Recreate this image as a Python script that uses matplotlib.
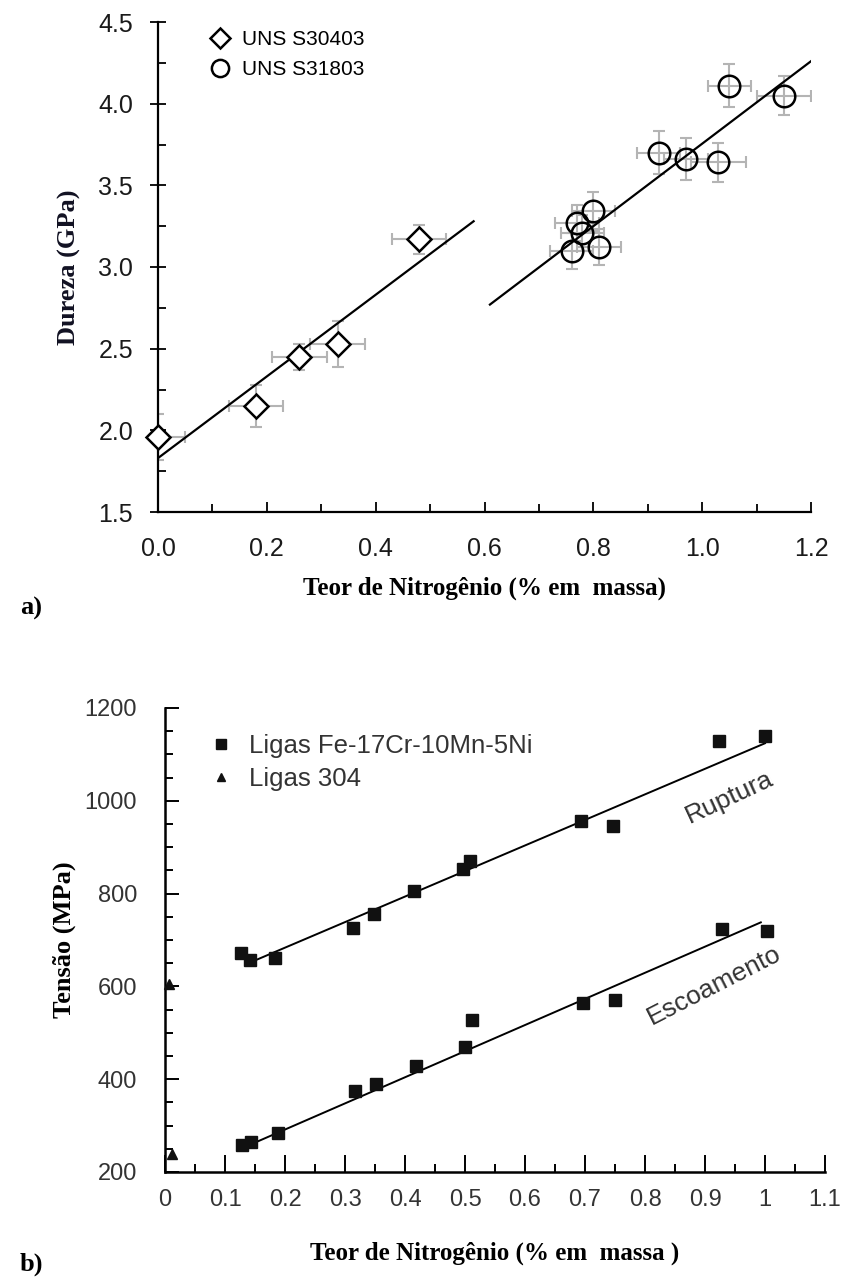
import matplotlib
matplotlib.use("Agg")
import matplotlib.pyplot as plt
from matplotlib.ticker import MultipleLocator

# --- a) Dureza vs N --- #
n_304 = [0.0, 0.18, 0.26, 0.33, 0.48]
hv_304 = [1.96, 2.15, 2.45, 2.53, 3.17]
hv_304_yerr = [0.14, 0.13, 0.08, 0.14, 0.09]
hv_304_xerr = [0.05, 0.05, 0.05, 0.05, 0.05]

n_318 = [0.76, 0.77, 0.78, 0.80, 0.81, 0.92, 0.97, 1.03, 1.05, 1.15]
hv_318 = [3.10, 3.27, 3.21, 3.34, 3.12, 3.70, 3.66, 3.64, 4.11, 4.05]
hv_318_yerr = [0.11, 0.11, 0.11, 0.12, 0.11, 0.13, 0.13, 0.12, 0.13, 0.12]
hv_318_xerr = [0.04, 0.04, 0.04, 0.04, 0.04, 0.04, 0.04, 0.05, 0.04, 0.05]

fit_304_x = [0.0, 0.58]
fit_304_y = [1.83, 3.28]
fit_318_x = [0.61, 1.20]
fit_318_y = [2.77, 4.26]

# --- b) Tensao vs N --- #
n_rup = [0.127, 0.141, 0.184, 0.314, 0.348, 0.415, 0.497, 0.509, 0.694, 0.746, 0.924, 1.0]
s_rup = [671, 657, 662, 726, 756, 805, 852, 870, 956, 946, 1128, 1139]
n_esc = [0.128, 0.144, 0.188, 0.316, 0.352, 0.418, 0.500, 0.512, 0.697, 0.750, 0.928, 1.004]
s_esc = [258, 265, 285, 375, 390, 429, 469, 527, 565, 570, 723, 720]
n_l304 = [0.007, 0.012]
s_l304 = [606, 238]

fit_rup_x = [0.141, 1.0]
fit_rup_y = [651, 1124]
fit_esc_x = [0.128, 0.993]
fit_esc_y = [251, 738]

serif = "Liberation Serif"
sans = "Liberation Sans"

fig = plt.figure(figsize=(8.42, 12.88), dpi=100)

# ---------------- a) ---------------- #
ax = fig.add_axes([158/842, 1-512/1288, 653/842, 490/1288])
ebc = "#b4b4b4"
ax.errorbar(n_304, hv_304, yerr=hv_304_yerr, xerr=hv_304_xerr, fmt="none",
            ecolor=ebc, elinewidth=1.5, capsize=4, capthick=1.5, zorder=1)
ax.errorbar(n_318, hv_318, yerr=hv_318_yerr, xerr=hv_318_xerr, fmt="none",
            ecolor=ebc, elinewidth=1.5, capsize=4, capthick=1.5, zorder=1)
ax.plot(fit_304_x, fit_304_y, color="black", lw=1.6, zorder=2)
ax.plot(fit_318_x, fit_318_y, color="black", lw=1.6, zorder=2)
ax.plot(n_304, hv_304, "D", ms=12.5, mfc="white", mec="black", mew=1.8, zorder=3,
        label="UNS S30403", clip_on=False)
ax.plot(n_318, hv_318, "o", ms=15.5, mfc="none", mec="black", mew=1.8, zorder=3,
        label="UNS S31803")

ax.set_xlim(0, 1.2)
ax.set_ylim(1.5, 4.5)
ax.xaxis.set_major_locator(MultipleLocator(0.2))
ax.xaxis.set_minor_locator(MultipleLocator(0.1))
ax.yaxis.set_major_locator(MultipleLocator(0.5))
ax.yaxis.set_minor_locator(MultipleLocator(0.25))
ax.xaxis.set_major_formatter(plt.FuncFormatter(lambda v, p: f"{v:.1f}"))
ax.yaxis.set_major_formatter(plt.FuncFormatter(lambda v, p: f"{v:.1f}"))
for s in ["top", "right"]:
    ax.spines[s].set_visible(False)
for s in ["left", "bottom"]:
    ax.spines[s].set_linewidth(1.6)
ax.tick_params(axis="x", which="both", direction="in", width=1.3)
ax.tick_params(axis="x", which="major", length=7, pad=18)
ax.tick_params(axis="x", which="minor", length=6)
ax.tick_params(axis="y", which="major", direction="inout", length=12, width=1.3, pad=12)
ax.tick_params(axis="y", which="minor", direction="in", length=6, width=1.3)
ax.tick_params(labelsize=18, labelcolor="#1a1a1a")
for lab in ax.get_xticklabels() + ax.get_yticklabels():
    lab.set_fontfamily(sans)
ax.set_xlabel("Teor de Nitrogênio (% em  massa)", fontfamily=serif,
              fontweight="bold", fontsize=18, labelpad=11)
ax.set_ylabel("Dureza (GPa)", fontfamily=serif, fontweight="bold",
              fontsize=19, labelpad=12, color="#111122")
ax.legend(loc="upper left", bbox_to_anchor=(0.05, 1.022), frameon=False,
          prop={"family": sans, "size": 15}, handletextpad=0.55,
          labelspacing=0.55, markerscale=0.8, handlelength=1.0)
fig.text(20/842, 1-608/1288, "a)", fontfamily=serif, fontweight="bold",
         fontsize=19, va="center", ha="left")

# ---------------- b) ---------------- #
bx = fig.add_axes([165/842, 1-1172/1288, 660/842, 464/1288])
bx.plot(fit_rup_x, fit_rup_y, color="black", lw=1.4, zorder=2)
bx.plot(fit_esc_x, fit_esc_y, color="black", lw=1.4, zorder=2)
bx.plot(n_rup, s_rup, "s", ms=8, color="#111111", zorder=3,
        label="Ligas Fe-17Cr-10Mn-5Ni")
bx.plot(n_esc, s_esc, "s", ms=8, color="#111111", zorder=3)
bx.plot(n_l304, s_l304, "^", ms=7, color="#111111", zorder=3,
        label="Ligas 304", clip_on=False)

bx.set_xlim(0, 1.1)
bx.set_ylim(200, 1200)
bx.xaxis.set_major_locator(MultipleLocator(0.1))
bx.xaxis.set_minor_locator(MultipleLocator(0.05))
bx.yaxis.set_major_locator(MultipleLocator(200))
bx.yaxis.set_minor_locator(MultipleLocator(50))
bx.xaxis.set_major_formatter(plt.FuncFormatter(lambda v, p: f"{v:.1f}".rstrip("0").rstrip(".") if v else "0"))
for s in ["top", "right"]:
    bx.spines[s].set_visible(False)
for s in ["left", "bottom"]:
    bx.spines[s].set_linewidth(1.8)
bx.tick_params(axis="both", which="both", direction="in", width=1.4, labelsize=17,
               labelcolor="#333333")
bx.tick_params(axis="x", which="major", length=12, pad=12)
bx.tick_params(axis="x", which="minor", length=6)
bx.tick_params(axis="y", which="major", length=10, pad=20)
bx.tick_params(axis="y", which="minor", length=6)
for lab in bx.get_xticklabels() + bx.get_yticklabels():
    lab.set_fontfamily(sans)
bx.set_xlabel("Teor de Nitrogênio (% em  massa )", fontfamily=serif,
              fontweight="bold", fontsize=18, labelpad=22)
bx.set_ylabel("Tensão (MPa)", fontfamily=serif, fontweight="bold",
              fontsize=19, labelpad=6)
bx.legend(loc="upper left", bbox_to_anchor=(0.03, 0.994), frameon=False,
          prop={"family": sans, "size": 18.5}, handletextpad=0.6,
          labelspacing=0.35, handlelength=1.0, markerscale=0.85,
          labelcolor="#333333")
bx.text(0.94, 1008, "Ruptura", rotation=25, fontfamily=sans, fontsize=19,
        color="#333333", ha="center", va="center")
bx.text(0.915, 602, "Escoamento", rotation=27, fontfamily=sans, fontsize=19,
        color="#333333", ha="center", va="center")
fig.text(20/842, 1-1264/1288, "b)", fontfamily=serif, fontweight="bold",
         fontsize=19, va="center", ha="left")

fig.savefig("out.png", dpi=100)
